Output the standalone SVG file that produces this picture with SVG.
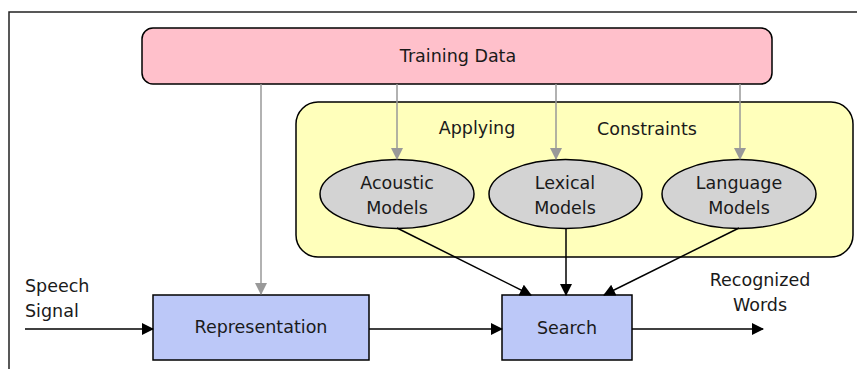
<svg xmlns="http://www.w3.org/2000/svg" width="857" height="369" viewBox="0 0 857 369">
<defs>
<style>
text{font-family:"DejaVu Sans","Liberation Sans",sans-serif;font-size:17.5px;fill:#1a1a1a}
.c{text-anchor:middle}
.blk{stroke:#000;stroke-width:1.5;fill:none}
.gry{stroke:#999;stroke-width:1.5;fill:none}
.ell{fill:#d3d3d3;stroke:#000;stroke-width:1.5}
.box{fill:#bcc8f8;stroke:#000;stroke-width:1.5}
</style>
<marker id="ab" markerWidth="12" markerHeight="12" viewBox="0 0 12 12" refX="11" refY="6" orient="auto" markerUnits="userSpaceOnUse"><path d="M0,0 L12,6 L0,12 z" fill="#000"/></marker>
<marker id="ag" markerWidth="12" markerHeight="12" viewBox="0 0 12 12" refX="11" refY="6" orient="auto" markerUnits="userSpaceOnUse"><path d="M0,0 L12,6 L0,12 z" fill="#999"/></marker>
</defs>
<rect width="857" height="369" fill="#fff"/>
<path d="M9,369 V12 H857" fill="none" stroke="#222" stroke-width="1.5"/>
<g id="constraints">
<rect x="296" y="102" width="557" height="155" rx="22" fill="#ffffbb" stroke="#000" stroke-width="1.5"/>
<text x="477" y="134" class="c">Applying</text>
<text x="647" y="135" class="c">Constraints</text>
</g>
<g id="training">
<rect x="142" y="28" width="630" height="56" rx="11" fill="#ffc0cb" stroke="#000" stroke-width="1.5"/>
<text x="458" y="62" class="c">Training Data</text>
</g>
<g id="acoustic">
<ellipse cx="397" cy="194" rx="77" ry="34.5" class="ell"/>
<text x="397" y="189" class="c">Acoustic</text>
<text x="397" y="214" class="c">Models</text>
</g>
<g id="lexical">
<ellipse cx="565.5" cy="194" rx="76.5" ry="34.5" class="ell"/>
<text x="565" y="189" class="c">Lexical</text>
<text x="565" y="214" class="c">Models</text>
</g>
<g id="language">
<ellipse cx="739" cy="194" rx="77" ry="34.5" class="ell"/>
<text x="739" y="189" class="c">Language</text>
<text x="739" y="214" class="c">Models</text>
</g>
<g id="representation">
<rect x="153" y="295" width="216" height="65" class="box"/>
<text x="261" y="333" class="c">Representation</text>
</g>
<g id="search">
<rect x="502" y="295" width="130" height="65" class="box"/>
<text x="567" y="334" class="c">Search</text>
</g>
<g id="labels">
<text x="25" y="292">Speech</text>
<text x="25" y="317">Signal</text>
<text x="760" y="286" class="c">Recognized</text>
<text x="760" y="311" class="c">Words</text>
</g>
<g id="connectors">
<line x1="261" y1="84" x2="261" y2="294" class="gry" marker-end="url(#ag)"/>
<line x1="397" y1="84" x2="397" y2="159" class="gry" marker-end="url(#ag)"/>
<line x1="556" y1="84" x2="556" y2="159" class="gry" marker-end="url(#ag)"/>
<line x1="740" y1="84" x2="740" y2="159" class="gry" marker-end="url(#ag)"/>
<line x1="397" y1="228" x2="531" y2="295" class="blk" marker-end="url(#ab)"/>
<line x1="566" y1="228" x2="566" y2="295" class="blk" marker-end="url(#ab)"/>
<line x1="739" y1="228" x2="604" y2="295" class="blk" marker-end="url(#ab)"/>
<line x1="25" y1="329" x2="153" y2="329" class="blk" marker-end="url(#ab)"/>
<line x1="369" y1="329" x2="502" y2="329" class="blk" marker-end="url(#ab)"/>
<line x1="632" y1="329" x2="763" y2="329" class="blk" marker-end="url(#ab)"/>
</g>
</svg>
